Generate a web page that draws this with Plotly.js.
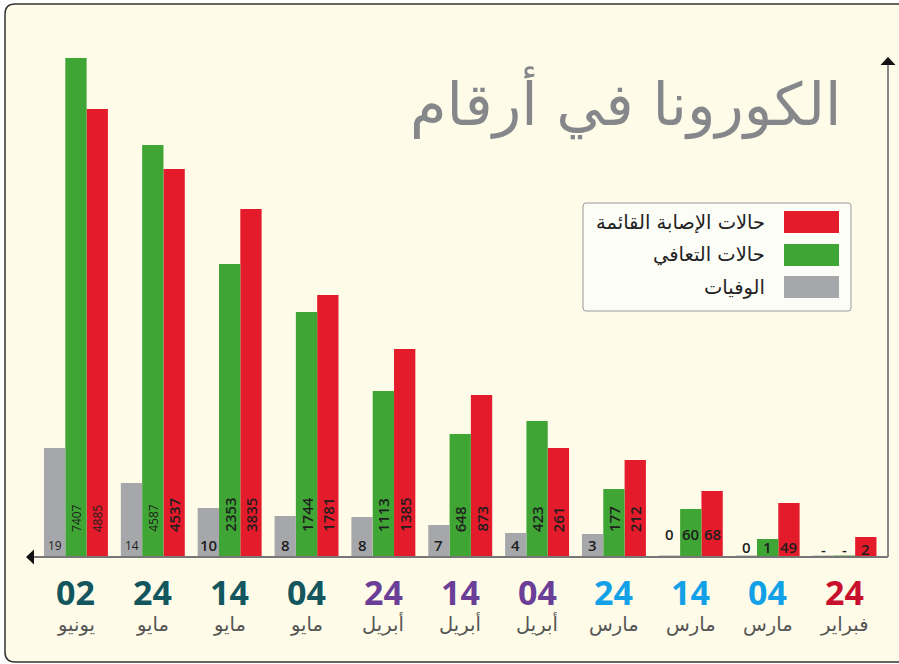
<!DOCTYPE html>
<html>
<head>
<meta charset="utf-8">
<script src="https://cdn.plot.ly/plotly-3.0.1.min.js"></script>
<style>html,body{margin:0;padding:0;background:#fff;}#chart{width:899px;height:664px;}</style>
</head>
<body>
<div id="chart"></div>
<script>
// ---- data (chronological; drawn right-to-left) ----
const days   = ['24','04','14','24','04','14','24','04','14','24','02'];
const months = ['فبراير','مارس','مارس','مارس','أبريل','أبريل','أبريل','مايو','مايو','مايو','يونيو'];
const deathsLabel    = ['-','0','0','3','4','7','8','8','10','14','19'];
const recoveredLabel = ['-','1','60','177','423','648','1113','1744','2353','4587','7407'];
const activeLabel    = ['2','49','68','212','261','873','1385','1781','3835','4537','4885'];
// bar lengths as drawn in the (not-to-scale) infographic
const activeHeight    = [20, 54, 66, 97, 109, 162, 208, 262, 348, 388, 448];
const recoveredHeight = [1.5, 18, 48, 68, 136, 123, 166, 245, 293, 412, 500];
const deathsHeight    = [1.5, 1.5, 1.5, 23, 24, 32, 40, 41, 49, 74, 109];
const seriesNames = ['حالات الإصابة القائمة', 'حالات التعافي', 'الوفيات'];
const titleText = 'الكورونا في أرقام';
const dayColors = ['#c8102e','#12a0e6','#12a0e6','#12a0e6','#6b3e98','#6b3e98','#6b3e98','#13565e','#13565e','#13565e','#13565e'];

const cats = days.map((d,i)=>d+' '+months[i]);
const RED='#e31b2a', GREEN='#3fa535', GRAY='#a6a7ab';

// plot area geometry
const L=26, R=12, T=58, B=107, W=899, H=664;
const PW=W-L-R, PH=H-T-B;
const px=x=>(x-L)/PW, py=y=>(H-B-y)/PH;

const traces = [
  {type:'bar', x:cats, y:activeHeight, name:seriesNames[0], marker:{color:RED}},
  {type:'bar', x:cats, y:recoveredHeight, name:seriesNames[1], marker:{color:GREEN}},
  {type:'bar', x:cats, y:deathsHeight, name:seriesNames[2], marker:{color:GRAY}}
];

const ann = [];
const BW = 21.3;
const numFont = 'Open Sans, DejaVu Sans, sans-serif';
const arFont = 'DejaVu Sans, sans-serif';
const smallSet = {'10-1':1,'10-0':1,'9-1':1,'10-2':1,'9-2':1};
for (let i=0;i<cats.length;i++){
  const groups = [[deathsLabel,-BW,2],[recoveredLabel,0,1],[activeLabel,BW,0]];
  groups.forEach(([arr,shift,k])=>{
    const t = arr[i];
    const small = smallSet[i+'-'+k];
    const rotated = (k<2) && i>=3;
    let y, ya='middle';
    if (rotated){ y=23; ya='bottom'; }
    else if (i===2) y=23;
    else if (i===1) y=10;
    else if (i===0) y=8;
    else y=12;
    ann.push({x:cats[i], y:y, xref:'x', yref:'y', xshift:shift, text:t, showarrow:false,
      textangle: rotated?-90:0, xanchor:'center', yanchor:ya,
      font:{family:numFont, size: small?12:15, color:'#1e1e1e', weight: small?500:600}});
  });
  ann.push({x:cats[i], xref:'x', yref:'paper', y:py(592), text:days[i], showarrow:false,
    font:{family:numFont, size:34, color:dayColors[i], weight:700}, yanchor:'middle'});
  ann.push({x:cats[i], xref:'x', yref:'paper', y:py(624), text:months[i], showarrow:false,
    font:{family:arFont, size:19.5, color:'#555'}, yanchor:'middle'});
}
// title
ann.push({xref:'paper', yref:'paper', x:px(843), y:py(103), xanchor:'right', yanchor:'middle',
  text:titleText, showarrow:false, font:{family:arFont, size:59, color:'#86878b'}});
// legend
const legColors=[RED,GREEN,GRAY], legY=[222,255,287];
const shapes = [];
// frame
const fx0=5, fx1=915, fy0=4, fy1=662, r=10;
shapes.push({type:'path', xref:'paper', yref:'paper', layer:'below',
  path:`M ${px(fx0+r)},${py(fy0)} L ${px(fx1)},${py(fy0)} L ${px(fx1)},${py(fy1)} L ${px(fx0+r)},${py(fy1)} Q ${px(fx0)},${py(fy1)} ${px(fx0)},${py(fy1-r)} L ${px(fx0)},${py(fy0+r)} Q ${px(fx0)},${py(fy0)} ${px(fx0+r)},${py(fy0)} Z`,
  fillcolor:'#fefce9', line:{color:'#333', width:1.5}});
// legend box
const lx0=583, lx1=851, ly0=203, ly1=311, lr=3;
shapes.push({type:'path', xref:'paper', yref:'paper', layer:'above',
  path:`M ${px(lx0+lr)},${py(ly0)} L ${px(lx1-lr)},${py(ly0)} Q ${px(lx1)},${py(ly0)} ${px(lx1)},${py(ly0+lr)} L ${px(lx1)},${py(ly1-lr)} Q ${px(lx1)},${py(ly1)} ${px(lx1-lr)},${py(ly1)} L ${px(lx0+lr)},${py(ly1)} Q ${px(lx0)},${py(ly1)} ${px(lx0)},${py(ly1-lr)} L ${px(lx0)},${py(ly0+lr)} Q ${px(lx0)},${py(ly0)} ${px(lx0+lr)},${py(ly0)} Z`,
  fillcolor:'#fdfdf8', line:{color:'#9a9a9a', width:1}});
seriesNames.forEach((n,j)=>{
  shapes.push({type:'rect', xref:'paper', yref:'paper', layer:'above',
    x0:px(784), x1:px(839), y0:py(legY[j]-11), y1:py(legY[j]+11), fillcolor:legColors[j], line:{width:0}});
  ann.push({xref:'paper', yref:'paper', x:px(767), y:py(legY[j]), xanchor:'right', yanchor:'middle',
    text:n, showarrow:false, font:{family:arFont, size:19.5, color:'#222'}});
});
// axes
shapes.push({type:'line', xref:'paper', yref:'paper', x0:px(33), x1:px(888), y0:py(557), y1:py(557), line:{color:'#777', width:2}, layer:'above'});
shapes.push({type:'line', xref:'paper', yref:'paper', x0:px(888), x1:px(888), y0:py(557), y1:py(64), line:{color:'#888', width:2}, layer:'above'});
shapes.push({type:'path', xref:'paper', yref:'paper', layer:'above',
  path:`M ${px(26)},${py(557)} L ${px(34)},${py(549.5)} L ${px(34)},${py(564.5)} Z`, fillcolor:'#111', line:{width:0}});
shapes.push({type:'path', xref:'paper', yref:'paper', layer:'above',
  path:`M ${px(888)},${py(57)} L ${px(880.5)},${py(65)} L ${px(895.5)},${py(65)} Z`, fillcolor:'#111', line:{width:0}});

const layout = {
  width:W, height:H, margin:{l:L, r:R, t:T, b:B, pad:0},
  paper_bgcolor:'#ffffff', plot_bgcolor:'rgba(0,0,0,0)',
  barmode:'group', bargap:0.168, bargroupgap:0,
  showlegend:false, hovermode:false,
  xaxis:{type:'category', range:[10.65,-0.553], showticklabels:false, showgrid:false, zeroline:false, showline:false, ticks:''},
  yaxis:{range:[0,PH], showticklabels:false, showgrid:false, zeroline:false, showline:false, ticks:''},
  annotations:ann, shapes:shapes
};
Plotly.newPlot('chart', traces, layout, {displayModeBar:false, staticPlot:true});
</script>
</body>
</html>
